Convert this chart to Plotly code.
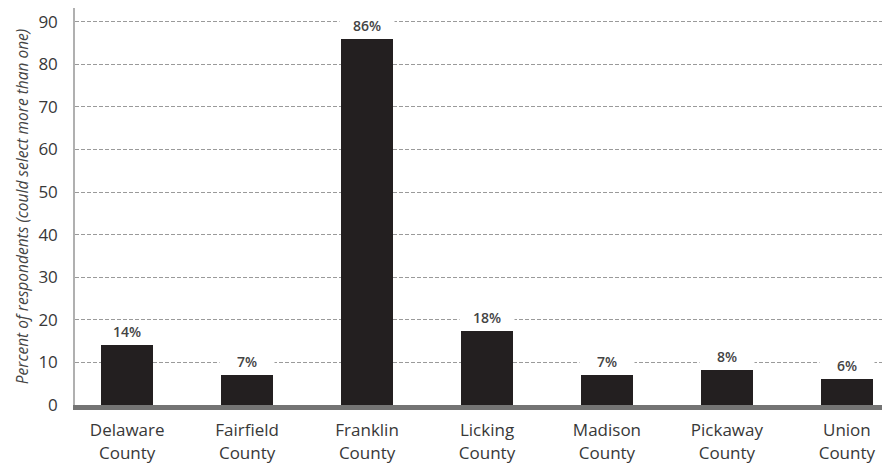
import plotly.graph_objects as go

categories = ["Delaware<br>County", "Fairfield<br>County", "Franklin<br>County", "Licking<br>County",
              "Madison<br>County", "Pickaway<br>County", "Union<br>County"]
values = [14, 7, 86, 17.4, 7, 8.2, 6.1]
labels = ["14%", "7%", "86%", "18%", "7%", "8%", "6%"]
y_ticks = [0, 10, 20, 30, 40, 50, 60, 70, 80, 90]

FONT = "Open Sans"

fig = go.Figure()
fig.add_trace(go.Bar(
    x=list(range(len(categories))), y=values,
    marker=dict(color="#231f20", line=dict(width=0)),
    width=0.435, showlegend=False, hoverinfo="skip",
))

for i, (v, lab) in enumerate(zip(values, labels)):
    fig.add_annotation(
        x=i, y=v, text=lab, showarrow=False, yanchor="bottom", yshift=2,
        bgcolor="white", width=52, borderpad=1,
        font=dict(family=FONT, size=14, color="#444444", weight=600),
    )

fig.update_layout(
    width=882, height=467,
    margin=dict(l=75, r=0, t=8, b=62),
    plot_bgcolor="white", paper_bgcolor="white",
    bargap=0,
    xaxis=dict(
        range=[-0.435, 6.293],
        tickmode="array", tickvals=list(range(len(categories))), ticktext=categories,
        showgrid=False, zeroline=False,
        showline=True, linecolor="#747474", linewidth=5,
        ticks="", ticklabelstandoff=6,
        tickfont=dict(family=FONT, size=17, color="#383838"),
        fixedrange=True,
    ),
    yaxis=dict(
        range=[0, 93.2],
        tickmode="array", tickvals=y_ticks,
        showgrid=True, gridcolor="#9a9a9a", gridwidth=1, griddash="4px,2px",
        zeroline=False,
        showline=True, linecolor="#b0b0b0", linewidth=1.5,
        ticks="", ticklabelstandoff=12,
        tickfont=dict(family=FONT, size=17, color="#383838"),
        title=dict(text="<i>Percent of respondents (could select more than one)</i>",
                   font=dict(family=FONT, size=15.5, color="#444444"), standoff=6),
        fixedrange=True,
    ),
)

fig.write_html("out.html")
